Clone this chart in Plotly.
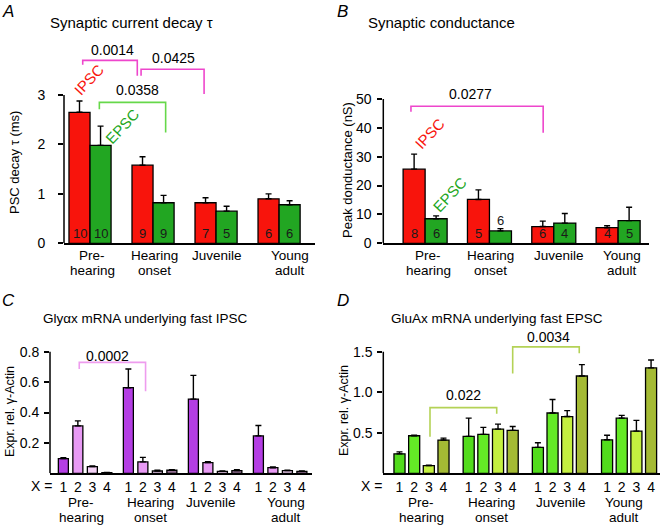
import plotly.graph_objects as go

W, H = 668, 526
FONT = "Liberation Sans, Arial, Helvetica, sans-serif"

# ---------------- data ----------------
group_line1 = ["Pre-", "Hearing", "Juvenile", "Young"]
group_line2 = ["hearing", "onset", "", "adult"]
x_tick_text = ["1", "2", "3", "4"]

# Panel A: synaptic current decay tau (ms); *_top = top of error bar
a_ipsc = [2.65, 1.58, 0.82, 0.90]
a_ipsc_top = [2.88, 1.75, 0.92, 1.00]
a_epsc = [1.98, 0.82, 0.65, 0.78]
a_epsc_top = [2.37, 0.97, 0.75, 0.86]
a_ipsc_n = [10, 9, 7, 6]
a_epsc_n = [10, 9, 5, 6]

# Panel B: peak conductance (nS)
b_ipsc = [25.7, 15.2, 5.8, 5.4]
b_ipsc_top = [30.9, 18.5, 7.7, 6.1]
b_epsc = [8.5, 4.3, 7.0, 7.85]
b_epsc_top = [9.5, 5.1, 10.3, 12.5]
b_ipsc_n = [8, 5, 6, 4]
b_epsc_n = [6, 6, 4, 5]

# Panel C: Glyalpha-x mRNA (X = 1..4)
c_x1 = [0.097, 0.563, 0.488, 0.246]
c_x1_top = [0.102, 0.686, 0.644, 0.314]
c_x2 = [0.312, 0.075, 0.070, 0.037]
c_x2_top = [0.345, 0.105, 0.077, 0.042]
c_x3 = [0.044, 0.015, 0.013, 0.018]
c_x3_top = [0.048, 0.020, 0.016, 0.021]
c_x4 = [0.004, 0.020, 0.018, 0.013]
c_x4_top = [0.005, 0.024, 0.024, 0.015]

# Panel D: GluAx mRNA (X = 1..4)
d_x1 = [0.24, 0.455, 0.32, 0.413]
d_x1_top = [0.264, 0.68, 0.376, 0.47]
d_x2 = [0.463, 0.48, 0.744, 0.68]
d_x2_top = [0.47, 0.566, 0.91, 0.715]
d_x3 = [0.095, 0.545, 0.70, 0.52]
d_x3_top = [0.10, 0.607, 0.773, 0.653]
d_x4 = [0.41, 0.53, 1.20, 1.30]
d_x4_top = [0.434, 0.578, 1.34, 1.397]

# significance brackets: (x_left, x_right, y_bar, y_left_end, y_right_end, label, label_x, label_y)
a_brackets = [(-0.116, 0.75, 3.70, 3.61, 3.39, "0.0014", 0.357, 3.91),
              (0.81, 1.81, 3.52, 3.39, 3.02, "0.0425", 1.33, 3.75),
              (0.148, 1.2, 2.85, 2.71, 2.24, "0.0358", 0.746, 3.10)]
b_brackets = [(-0.22, 1.835, 47.5, 45.6, 38.3, "0.0277", 0.71, 51.7)]
c_brackets = [(-0.09, 0.93, 0.73, 0.686, 0.54, "0.0002", 0.35, 0.77)]
d_brackets = [(0.123, 1.087, 0.81, 0.45, 0.735, "0.022", 0.61, 0.96),
              (1.318, 2.28, 1.56, 1.23, 1.48, "0.0034", 1.84, 1.68)]

# ---------------- style ----------------
RED = "#f8140c"
GREEN = "#22a622"
C_COLORS = ["#b43ee4", "#e89af4", "#f4d2f6", "#947094"]
D_COLORS = ["#52dc1c", "#64ea26", "#c4f040", "#a4ba34"]
MAGENTA = "#ee46cc"
LGREEN = "#66d84a"
LPINK = "#ee9cee"
OLIVE = "#b4d256"

def px2x(px):
    return px / W

def px2y(py):
    return 1 - py / H

geo = {
    1: dict(x0=64, x1=315, base=243.3, tpx=95, tval=3, top=36, xr=[-0.413, 3.57],
            tickvals=[0, 1, 2, 3], fmt="", standoff=10),
    2: dict(x0=383.3, x1=649, base=243.3, tpx=99, tval=50, top=80, xr=[-0.65, 3.48],
            tickvals=[0, 10, 20, 30, 40, 50], fmt="", standoff=3),
    3: dict(x0=50, x1=312, base=473.3, tpx=351.7, tval=0.8, top=335, xr=[-0.54, 3.49],
            tickvals=[0.2, 0.4, 0.6, 0.8], fmt=".1f", standoff=2),
    4: dict(x0=383.3, x1=660, base=473.3, tpx=351.7, tval=1.5, top=325, xr=[-0.552, 3.447],
            tickvals=[0.5, 1.0, 1.5], fmt=".1f", standoff=2),
}
for g in geo.values():
    g["ppu"] = (g["base"] - g["tpx"]) / g["tval"]
    g["ymax"] = (g["base"] - g["top"]) / g["ppu"]

def sfx(i):
    return "" if i == 1 else str(i)

fig = go.Figure()
annotations = []
shapes = []

def add_bars(i, xs, vals, tops, color, width):
    fig.add_trace(go.Bar(
        x=xs, y=vals, width=width,
        marker=dict(color=color, line=dict(color="black", width=1.3)),
        error_y=dict(type="data", symmetric=False,
                     array=[t - v for t, v in zip(tops, vals)],
                     arrayminus=[0] * len(vals),
                     color="black", thickness=1.4, width=3),
        xaxis="x" + sfx(i), yaxis="y" + sfx(i), showlegend=False, hoverinfo="skip"))

groups = list(range(len(group_line1)))

def add_counts(i, xs, vals, ns):
    g = geo[i]
    for x, v, n in zip(xs, vals, ns):
        inside = v * g["ppu"] >= 15
        annotations.append(dict(
            x=x, y=0 if inside else v, xref="x" + sfx(i), yref="y" + sfx(i),
            text=str(n), showarrow=False, xanchor="center", yanchor="bottom",
            yshift=0 if inside else 1,
            font=dict(size=13, color="#1a1a1a", family=FONT)))

# Panel A & B
for i, (ip, ipt, ep, ept, ipn, epn, off) in {
        1: (a_ipsc, a_ipsc_top, a_epsc, a_epsc_top, a_ipsc_n, a_epsc_n, 0.167),
        2: (b_ipsc, b_ipsc_top, b_epsc, b_epsc_top, b_ipsc_n, b_epsc_n, 0.171)}.items():
    xs_i = [g - off for g in groups]
    xs_e = [g + off for g in groups]
    add_bars(i, xs_i, ip, ipt, RED, 2 * off)
    add_bars(i, xs_e, ep, ept, GREEN, 2 * off)
    add_counts(i, xs_i, ip, ipn)
    add_counts(i, xs_e, ep, epn)

# Panel C & D
c_series = [(c_x1, c_x1_top), (c_x2, c_x2_top), (c_x3, c_x3_top), (c_x4, c_x4_top)]
d_series = [(d_x1, d_x1_top), (d_x2, d_x2_top), (d_x3, d_x3_top), (d_x4, d_x4_top)]
cd_ticks = {}
for i, series, colors, step, bw in [(3, c_series, C_COLORS, 0.223, 0.154),
                                    (4, d_series, D_COLORS, 0.212, 0.16)]:
    tv, tt = [], []
    for k, (vals, tops) in enumerate(series):
        xs = [g + (k - 1.5) * step for g in groups]
        add_bars(i, xs, vals, tops, colors[k], bw)
        tv += xs
        tt += [x_tick_text[k]] * len(xs)
    cd_ticks[i] = (tv, tt)

# brackets
for i, brs, col in [(1, a_brackets[:2], MAGENTA), (1, a_brackets[2:], LGREEN),
                    (2, b_brackets, MAGENTA), (3, c_brackets, LPINK), (4, d_brackets, OLIVE)]:
    for xl, xr, yb, yl, yr, lab, lx, ly in brs:
        shapes.append(dict(type="path", xref="x" + sfx(i), yref="y" + sfx(i),
                           path=f"M {xl},{yl} L {xl},{yb} L {xr},{yb} L {xr},{yr}",
                           line=dict(color=col, width=1.6)))
        annotations.append(dict(x=lx, y=ly, xref="x" + sfx(i), yref="y" + sfx(i),
                                text=lab, showarrow=False, xanchor="center", yanchor="middle",
                                font=dict(size=14, color="black", family=FONT)))

# rotated IPSC / EPSC labels
for i, x, y, txt, col in [(1, -0.02, 3.32, "IPSC", RED), (1, 0.51, 2.36, "EPSC", GREEN),
                          (2, 0.07, 38.1, "IPSC", RED), (2, 0.38, 17.0, "EPSC", GREEN)]:
    annotations.append(dict(x=x, y=y, xref="x" + sfx(i), yref="y" + sfx(i), text=txt,
                            showarrow=False, textangle=-47, xanchor="center", yanchor="middle",
                            font=dict(size=15, color=col, family=FONT)))

# y-axis lines (only up to the top tick)
for i, g in geo.items():
    shapes.append(dict(type="line", xref="x" + sfx(i) + " domain", yref="y" + sfx(i),
                       x0=0, x1=0, y0=0, y1=g["tval"], line=dict(color="black", width=1.5)))

# group labels under the axes (first line centre y, second line centre y, x shifts)
label_rows = {1: (255.5, 270.5, [2, 1, 1, 11]), 2: (255.5, 270.5, [3, 1, 5, 4]),
              3: (502.5, 517.5, [-4, 0, -4, 6]), 4: (502.5, 517.5, [0, 1, 1, -5])}
for i, (r1, r2, shifts) in label_rows.items():
    for g, l1, l2, sh in zip(groups, group_line1, group_line2, shifts):
        for row, txt in [(r1, l1), (r2, l2)]:
            if txt:
                annotations.append(dict(x=g, y=px2y(row), xref="x" + sfx(i), yref="paper",
                                        text=txt, showarrow=False, xanchor="center",
                                        yanchor="middle", xshift=sh, borderpad=0,
                                        font=dict(size=13.5, color="black", family=FONT)))

# "X =" labels
for xpx in [41, 372]:
    annotations.append(dict(x=px2x(xpx), y=px2y(486), xref="paper", yref="paper",
                            text="X =", showarrow=False, xanchor="center", yanchor="middle",
                            font=dict(size=14, color="black", family=FONT)))

# titles
for xpx, ypx, txt, sz in [(48, 22, "Synaptic current decay τ", 15),
                          (366, 23, "Synaptic conductance", 15),
                          (41, 318, "Glyαx mRNA underlying fast IPSC", 13.5),
                          (389, 318, "GluAx mRNA underlying fast EPSC", 13.5)]:
    annotations.append(dict(x=px2x(xpx), y=px2y(ypx), xref="paper", yref="paper",
                            text=txt, showarrow=False, xanchor="left", yanchor="middle",
                            font=dict(size=sz, color="black", family=FONT)))

# panel letters
for xpx, ypx, txt in [(0, 12, "A"), (335, 12, "B"), (0, 300, "C"), (335, 300, "D")]:
    annotations.append(dict(x=px2x(xpx), y=px2y(ypx), xref="paper", yref="paper",
                            text=f"<i>{txt}</i>", showarrow=False, xanchor="left",
                            yanchor="middle", font=dict(size=17, color="black", family=FONT)))

# y-axis titles
for xpx, ypx, txt, sz in [(15, 163, "PSC decay τ (ms)", 13),
                          (347, 170, "Peak donductance (nS)", 13),
                          (10, 412, "Expr. rel. γ-Actin", 12.5),
                          (344, 410, "Expr. rel. γ-Actin", 12.5)]:
    annotations.append(dict(x=px2x(xpx), y=px2y(ypx), xref="paper", yref="paper",
                            text=txt, showarrow=False, textangle=-90,
                            xanchor="center", yanchor="middle",
                            font=dict(size=sz, color="black", family=FONT)))

layout = dict(width=W, height=H, margin=dict(l=0, r=0, t=0, b=0),
              paper_bgcolor="white", plot_bgcolor="white", barmode="overlay",
              font=dict(family=FONT, color="black", size=14),
              annotations=annotations, shapes=shapes, showlegend=False)

for i, g in geo.items():
    s = sfx(i)
    xa = dict(domain=[px2x(g["x0"]), px2x(g["x1"])], range=g["xr"], anchor="y" + s,
              showline=True, linecolor="black", linewidth=1.5, showgrid=False,
              zeroline=False, ticks="", fixedrange=True, automargin=False)
    if i in cd_ticks:
        xa.update(tickmode="array", tickvals=cd_ticks[i][0], ticktext=cd_ticks[i][1],
                  showticklabels=True, tickfont=dict(size=14, family=FONT, color="black"),
                  ticklabelstandoff=0)
    else:
        xa.update(showticklabels=False)
    ya = dict(domain=[px2y(g["base"]), px2y(g["top"])], range=[0, g["ymax"]], anchor="x" + s,
              showline=False, showgrid=False, zeroline=False, ticks="outside", ticklen=5,
              tickwidth=1.5, tickcolor="black", tickmode="array", tickvals=g["tickvals"],
              tickformat=g["fmt"], ticklabelstandoff=g["standoff"], automargin=False,
              tickfont=dict(size=14, family=FONT, color="black"), fixedrange=True)
    layout["xaxis" + s] = xa
    layout["yaxis" + s] = ya

fig.update_layout(**layout)
fig.write_html("out.html", config={"displayModeBar": False},
               post_script="document.body.style.margin='0';document.body.style.overflow='hidden';")
